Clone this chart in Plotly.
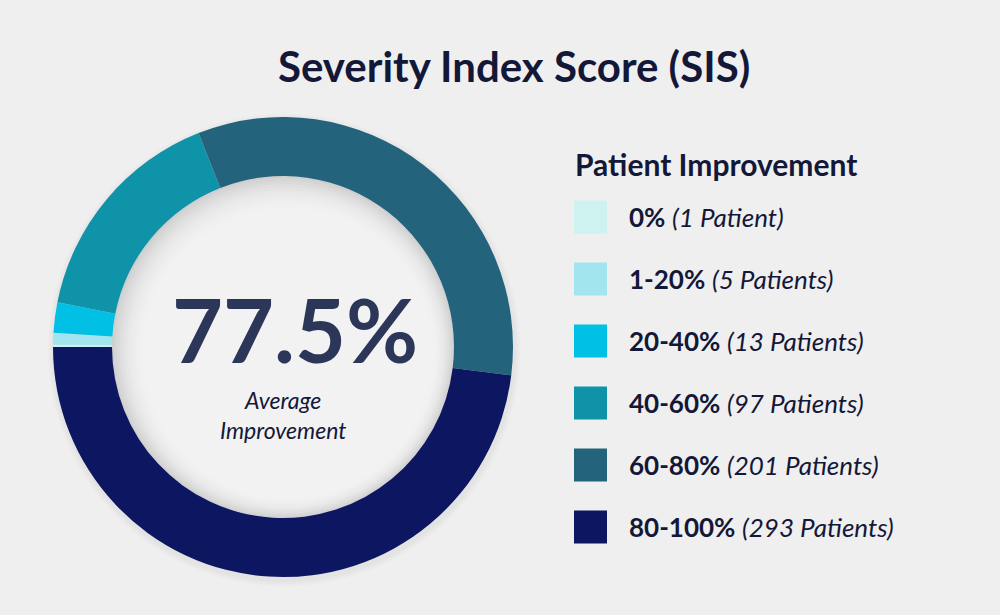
import plotly.graph_objects as go

# ---- data ----
categories = ["0%", "1-20%", "20-40%", "40-60%", "60-80%", "80-100%"]
patients = [1, 5, 13, 97, 201, 293]
colors = ["#cdf2ef", "#a3e5ee", "#00c1e5", "#0f93a9", "#23637b", "#0d1660"]
title_text = "Severity Index Score (SIS)"
legend_title = "Patient Improvement"
avg_improvement = 77.5
avg_label = "Average<br>Improvement"

W, H = 1000, 615
BG = "#efefef"
NAVY = "#141838"

def px(x):
    return x / W

def py(y):
    return 1 - y / H

# donut geometry (pixels)
cx, cy, R, r_in = 283, 347, 230, 171

fig = go.Figure()
fig.add_trace(go.Pie(
    labels=categories,
    values=patients,
    sort=False,
    direction="clockwise",
    rotation=270,
    hole=r_in / R,
    marker=dict(colors=colors, line=dict(width=0)),
    textinfo="none",
    hoverinfo="label+value",
    showlegend=False,
    domain=dict(x=[px(cx - R), px(cx + R)], y=[py(cy + R), py(cy - R)]),
))

shapes = []

def circle(x, y, rad, color):
    return dict(type="circle", xref="paper", yref="paper",
                x0=px(x - rad), x1=px(x + rad), y0=py(y + rad), y1=py(y - rad),
                fillcolor=color, line=dict(width=0), layer="below")

# soft outer shadow
for i, c in enumerate(["#ebebeb", "#e7e7e7", "#e3e3e3"]):
    shapes.append(circle(cx + 1, cy + 3, R + 6 - 2 * i, c))

# inset shading in the hole
shade = ["#cfcfcf", "#d5d5d5", "#dadada", "#dfdfdf", "#e3e3e3", "#e7e7e7",
         "#eaeaea", "#ececec", "#eeeeee", "#f0f0f0", "#f1f1f1", "#f2f2f2"]
for i, c in enumerate(shade):
    shapes.append(circle(cx + 0.5 * i, cy + 0.6 * i, r_in + 1 - 2.4 * i, c))

# legend squares
sq = 33
row0, gap = 217, 62
for i, c in enumerate(colors):
    yc = row0 + gap * i
    shapes.append(dict(type="rect", xref="paper", yref="paper",
                       x0=px(574), x1=px(574 + sq), y0=py(yc + sq / 2), y1=py(yc - sq / 2),
                       fillcolor=c, line=dict(width=0)))

annotations = [
    dict(text=f"<b>{title_text}</b>", x=px(514), y=py(66), xref="paper", yref="paper",
         xanchor="center", yanchor="middle", showarrow=False,
         font=dict(family="Lato", size=42, color=NAVY)),
    dict(text=f"<b>{legend_title}</b>", x=px(573), y=py(164), xref="paper", yref="paper",
         xanchor="left", yanchor="middle", showarrow=False,
         font=dict(family="Lato", size=30, color=NAVY)),
    dict(text=f"<b>{avg_improvement:g}%</b>", x=px(295), y=py(329), xref="paper", yref="paper",
         xanchor="center", yanchor="middle", showarrow=False,
         font=dict(family="Lato", size=88, color="#2c3658")),
    dict(text=f"<i>{avg_label}</i>", x=px(283), y=py(384), xref="paper", yref="paper",
         xanchor="center", yanchor="top", showarrow=False,
         font=dict(family="Lato", size=23, color=NAVY)),
]

for i, (cat, n) in enumerate(zip(categories, patients)):
    suffix = "Patient" if n == 1 else "Patients"
    annotations.append(dict(
        text=f"<b>{cat}</b> <i>({n} {suffix})</i>",
        x=px(627), y=py(row0 + gap * i), xref="paper", yref="paper",
        xanchor="left", yanchor="middle", showarrow=False,
        font=dict(family="Lato", size=26, color=NAVY)))

fig.update_layout(
    width=W, height=H,
    margin=dict(l=0, r=0, t=0, b=0),
    paper_bgcolor=BG, plot_bgcolor=BG,
    shapes=shapes, annotations=annotations,
)

fig.write_html(
    "out.html",
    config={"displayModeBar": False},
    post_script="document.body.style.margin='0';document.body.style.overflow='hidden';"
                "document.body.style.background='#efefef';",
)
